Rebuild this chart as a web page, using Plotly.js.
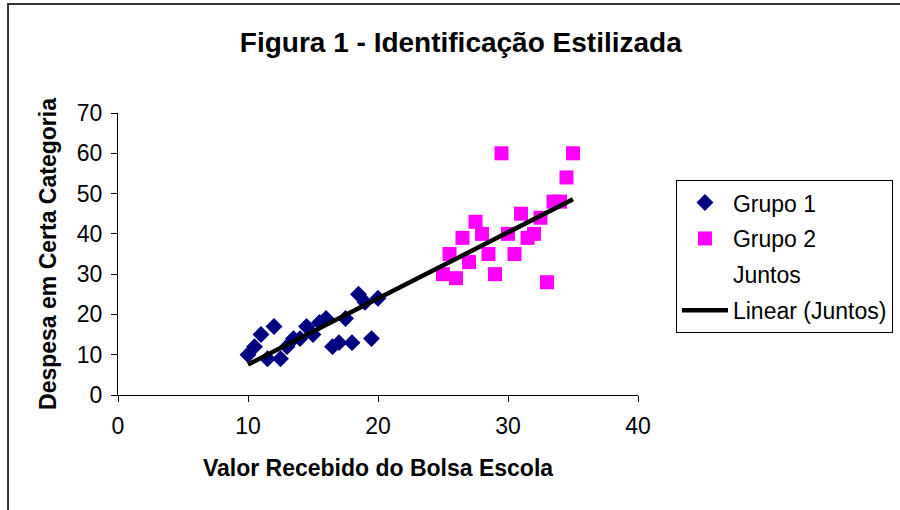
<!DOCTYPE html>
<html>
<head>
<meta charset="utf-8">
<script src="https://cdn.plot.ly/plotly-3.0.1.min.js"></script>
<style>html,body{margin:0;padding:0;background:#fff;} #chart{width:900px;height:510px;}</style>
</head>
<body>
<div id="chart"></div>
<script>
// Grupo 1 (diamonds)
const grupo1X = [10, 10.5, 11, 11.5, 12, 12.5, 13, 13.5, 14, 14.5, 15, 15.5, 16, 16.5, 17, 17.5, 18, 18.5, 19, 19.5, 20];
const grupo1Y = [10, 12, 15, 9, 17, 9, 12, 14, 14, 17, 15, 18, 19, 12, 13, 19, 13, 25, 23, 14, 24];
// Grupo 2 (squares)
const grupo2X = [25, 25.5, 26, 26.5, 27, 27.5, 28, 28.5, 29, 29.5, 30, 30.5, 31, 31.5, 32, 32.5, 33, 33.5, 34, 34.5, 35];
const grupo2Y = [30, 35, 29, 39, 33, 43, 40, 35, 30, 60, 40, 35, 45, 39, 40, 44, 28, 48, 48, 54, 60];
const seriesNames = ["Grupo 1", "Grupo 2", "Juntos", "Linear (Juntos)"];
const xTicks = [0, 10, 20, 30, 40];
const yTicks = [0, 10, 20, 30, 40, 50, 60, 70];

// Juntos = both groups combined
const juntosX = grupo1X.concat(grupo2X);
const juntosY = grupo1Y.concat(grupo2Y);

// least-squares linear trend of Juntos
const n = juntosX.length;
const mx = juntosX.reduce((a, b) => a + b, 0) / n;
const my = juntosY.reduce((a, b) => a + b, 0) / n;
let sxy = 0, sxx = 0;
for (let i = 0; i < n; i++) { sxy += (juntosX[i] - mx) * (juntosY[i] - my); sxx += (juntosX[i] - mx) ** 2; }
const slope = sxy / sxx, intercept = my - slope * mx;
const xMin = Math.min(...juntosX), xMax = Math.max(...juntosX);
const trendX = [xMin, xMax];
const trendY = trendX.map(x => intercept + slope * x);

const F = "Arial, 'Liberation Sans', sans-serif";

const traces = [
  {x: grupo1X, y: grupo1Y, name: seriesNames[0], legendgroup: 'g1', type: 'scatter', mode: 'markers',
   marker: {symbol: 'diamond', size: 13, color: '#000080'}},
  {x: grupo2X, y: grupo2Y, name: seriesNames[1], legendgroup: 'g2', type: 'scatter', mode: 'markers',
   marker: {symbol: 'square', size: 14, color: '#FF00FF'}},
  {x: juntosX, y: juntosY, name: seriesNames[2], legendgroup: 'g3', type: 'scatter', mode: 'markers',
   marker: {size: 8, color: 'rgba(0,0,0,0)'}, hoverinfo: 'skip'},
  {x: trendX, y: trendY, name: seriesNames[3], legendgroup: 'g4', type: 'scatter', mode: 'lines',
   line: {color: '#000000', width: 4.5}}
];

const layout = {
  width: 900, height: 510,
  margin: {l: 118, r: 262, t: 113, b: 115, autoexpand: false},
  paper_bgcolor: '#ffffff', plot_bgcolor: '#ffffff',
  font: {family: F, size: 23, color: '#000'},
  title: {text: '<b>Figura 1 - Identificação Estilizada</b>', font: {family: F, size: 28, color: '#000'},
          xref: 'container', yref: 'container', x: 0.512, xanchor: 'center', y: 0.918, yanchor: 'middle'},
  xaxis: {range: [0, 40], tickvals: xTicks, ticktext: xTicks.map(String), showgrid: false, zeroline: false,
          showline: true, linecolor: '#000', linewidth: 1, ticks: 'outside', ticklen: 6, tickcolor: '#000',
          tickfont: {family: F, size: 23}, fixedrange: true, ticklabelstandoff: 4, automargin: false,
          title: {text: '<b>Valor Recebido do Bolsa Escola</b>', font: {family: F, size: 23}, standoff: 22}},
  yaxis: {range: [0, 70], tickvals: yTicks, ticktext: yTicks.map(String), showgrid: false, zeroline: false,
          showline: true, linecolor: '#000', linewidth: 1, ticks: 'outside', ticklen: 6, tickcolor: '#000',
          tickfont: {family: F, size: 23}, fixedrange: true, ticklabelstandoff: 4, automargin: false,
          title: {text: '<b>Despesa em Certa Categoria</b>', font: {family: F, size: 23}, standoff: 13}},
  legend: {x: 1.073, y: 0.762, xanchor: 'left', yanchor: 'top', bordercolor: '#000', borderwidth: 1,
           bgcolor: '#fff', font: {family: F, size: 23}, tracegroupgap: 3, itemwidth: 46},
  shapes: [{type: 'rect', xref: 'paper', yref: 'paper', x0: -0.2115, x1: 1.6, y0: -0.5, y1: 1.3865,
            line: {color: '#333', width: 2}, fillcolor: 'rgba(0,0,0,0)', layer: 'below'}],
  showlegend: true
};

Plotly.newPlot('chart', traces, layout, {displayModeBar: false, staticPlot: true});
</script>
</body>
</html>
